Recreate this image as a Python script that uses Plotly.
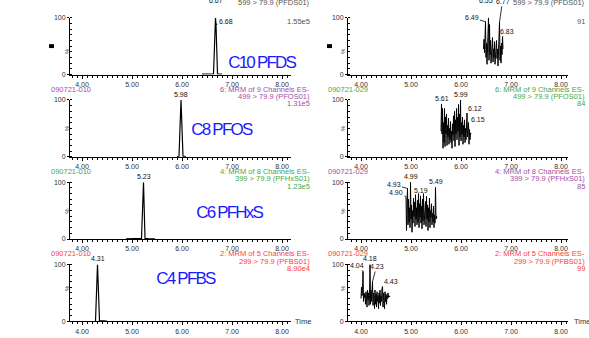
import plotly.graph_objects as go

W, H = 589, 338

# ---------------- text content ----------------
compounds = ["C10 PFDS", "C8 PFOS", "C6 PFHxS", "C4 PFBS"]
sample_left = "090721-010"
sample_right = "090721-029"
channels = ["8: MRM of 9 Channels ES-", "6: MRM of 9 Channels ES-",
            "4: MRM of 8 Channels ES-", "2: MRM of 5 Channels ES-"]
transitions = ["599 > 79.9 (PFDS01)", "499 > 79.9 (PFOS01)",
               "399 > 79.9 (PFHxS01)", "299 > 79.9 (PFBS01)"]
intensity_left = ["1.55e5", "1.31e5", "1.23e5", "8.90e4"]
intensity_right = ["91", "84", "85", "99"]
x_tick_vals = [4, 5, 6, 7, 8]
x_tick_text = ["4.00", "5.00", "6.00", "7.00", "8.00"]
y_tick_vals = [0, 100]
y_tick_text = ["0", "100"]

# ---------------- standard (left column) ----------------
pfds_std_t = [6.40, 6.50, 6.60, 6.63, 6.67, 6.68, 6.71, 6.75, 6.80]
pfds_std_v = [0.5, 1, 1, 1, 100, 88, 1, 0.5, 0.5]
pfos_std_t = [5.90, 5.94, 5.98, 6.02, 6.08]
pfos_std_v = [0.5, 0.5, 100, 1, 0.5]
pfhxs_std_t = [4.88, 5.00, 5.10, 5.19, 5.23, 5.26, 5.35, 5.46]
pfhxs_std_v = [0.3, 0.5, 0.5, 1, 100, 1, 0.5, 0.3]
pfbs_std_t = [4.27, 4.31, 4.35, 4.40, 4.45, 4.50]
pfbs_std_v = [0.5, 100, 1, 1, 1.5, 0.5]

# ---------------- sample (right column, noise) ----------------
pfds_smp_t = [6.45, 6.46, 6.47, 6.48, 6.49, 6.50, 6.51, 6.52, 6.53, 6.54,
              6.55, 6.56, 6.57, 6.58, 6.59, 6.60, 6.61, 6.62, 6.63, 6.64,
              6.65, 6.66, 6.67, 6.68, 6.69, 6.70, 6.71, 6.72, 6.73, 6.74,
              6.75, 6.76, 6.77, 6.78, 6.79, 6.80, 6.81, 6.82, 6.83, 6.84]
pfds_smp_v = [45, 62, 38, 70, 93, 30, 55, 18, 72, 45,
              100, 25, 88, 35, 60, 20, 50, 38, 65, 22,
              45, 30, 58, 18, 42, 35, 60, 28, 45, 15,
              40, 30, 92, 25, 50, 20, 55, 35, 66, 45]
pfos_smp_t = [5.60, 5.61, 5.62, 5.63, 5.64, 5.65, 5.66, 5.67, 5.68, 5.69,
              5.70, 5.71, 5.72, 5.73, 5.74, 5.75, 5.76, 5.77, 5.78, 5.79,
              5.80, 5.81, 5.82, 5.83, 5.84, 5.85, 5.86, 5.87, 5.88, 5.89,
              5.90, 5.91, 5.92, 5.93, 5.94, 5.95, 5.96, 5.97, 5.98, 5.99,
              6.00, 6.01, 6.02, 6.03, 6.04, 6.05, 6.06, 6.07, 6.08, 6.09,
              6.10, 6.11, 6.12, 6.13, 6.14, 6.15, 6.16, 6.17, 6.18, 6.19, 6.20]
pfos_smp_v = [45, 93, 40, 85, 15, 60, 25, 85, 18, 70,
              40, 75, 20, 55, 35, 68, 22, 50, 30, 62,
              25, 45, 15, 58, 38, 72, 28, 80, 18, 65,
              40, 85, 30, 70, 45, 92, 20, 75, 35, 100,
              28, 60, 40, 70, 22, 55, 35, 65, 25, 50,
              30, 60, 77, 35, 45, 60, 22, 48, 30, 42, 40]
pfhxs_smp_t = [4.90, 4.91, 4.92, 4.93, 4.94, 4.95, 4.96, 4.97, 4.98, 4.99,
               5.00, 5.01, 5.02, 5.03, 5.04, 5.05, 5.06, 5.07, 5.08, 5.09,
               5.10, 5.11, 5.12, 5.13, 5.14, 5.15, 5.16, 5.17, 5.18, 5.19,
               5.20, 5.21, 5.22, 5.23, 5.24, 5.25, 5.26, 5.27, 5.28, 5.29,
               5.30, 5.31, 5.32, 5.33, 5.34, 5.35, 5.36, 5.37, 5.38, 5.39,
               5.40, 5.41, 5.42, 5.43, 5.44, 5.45, 5.46, 5.47, 5.48, 5.49,
               5.50, 5.51, 5.52]
pfhxs_smp_v = [75, 15, 60, 89, 25, 70, 30, 55, 20, 100,
               35, 60, 12, 50, 28, 72, 40, 65, 22, 78,
               35, 55, 25, 68, 30, 80, 20, 62, 38, 76,
               28, 58, 18, 70, 32, 80, 25, 52, 40, 66,
               22, 75, 35, 60, 15, 55, 30, 72, 20, 50,
               38, 62, 25, 45, 30, 58, 20, 42, 28, 91,
               35, 40, 38]
pfbs_smp_t = [4.00, 4.01, 4.02, 4.03, 4.04, 4.05, 4.06, 4.07, 4.08, 4.09,
              4.10, 4.11, 4.12, 4.13, 4.14, 4.15, 4.16, 4.17, 4.18, 4.19,
              4.20, 4.21, 4.22, 4.23, 4.24, 4.25, 4.26, 4.27, 4.28, 4.29,
              4.30, 4.31, 4.32, 4.33, 4.34, 4.35, 4.36, 4.37, 4.38, 4.39,
              4.40, 4.41, 4.42, 4.43, 4.44, 4.45, 4.46, 4.47, 4.48, 4.49,
              4.50, 4.51, 4.52, 4.53, 4.54, 4.55, 4.56, 4.57, 4.58]
pfbs_smp_v = [40, 60, 45, 55, 88, 35, 50, 42, 48, 30,
              52, 40, 25, 55, 38, 50, 28, 45, 100, 30,
              55, 35, 60, 70, 28, 50, 38, 22, 55, 30,
              48, 25, 52, 35, 45, 22, 50, 32, 55, 28,
              45, 35, 58, 61, 25, 50, 38, 22, 52, 35,
              48, 30, 45, 40, 50, 42, 45, 43, 44]

# ---------------- peak labels (text, time, %) ----------------
labels_std = [
    [("6.67", 6.67, 100), ("6.68", 6.68, 88)],
    [("5.98", 5.98, 100)],
    [("5.23", 5.23, 100)],
    [("4.31", 4.31, 100)],
]
labels_smp = [
    [("6.49", 6.49, 93), ("6.55", 6.55, 100), ("6.77", 6.77, 92), ("6.83", 6.83, 66)],
    [("5.61", 5.61, 93), ("5.99", 5.99, 100), ("6.12", 6.12, 77), ("6.15", 6.15, 60)],
    [("4.90", 4.90, 75), ("4.93", 4.93, 89), ("4.99", 4.99, 100), ("5.19", 5.19, 76), ("5.49", 5.49, 91)],
    [("4.04", 4.04, 88), ("4.18", 4.18, 100), ("4.23", 4.23, 70), ("4.43", 4.43, 61)],
]

# ---------------- styling / layout (pixels) ----------------
std_series = [(pfds_std_t, pfds_std_v), (pfos_std_t, pfos_std_v),
              (pfhxs_std_t, pfhxs_std_v), (pfbs_std_t, pfbs_std_v)]
smp_series = [(pfds_smp_t, pfds_smp_v), (pfos_smp_t, pfos_smp_v),
              (pfhxs_smp_t, pfhxs_smp_v), (pfbs_smp_t, pfbs_smp_v)]

# label placement styles: None -> directly above; (ax, ay, yshift, arrow)
style_std = [[(0, 0, 12, False), (10, -3, 0, True)], [None], [None], [None]]
style_smp = [
    [(-14, -4, 0, True), (-3, 0, 12, False), (3, -21, 0, True), (4, -6, 0, True)],
    [None, None, (8, -5, 0, True), (9, -3, 0, True)],
    [(-10, -4, 0, True), (-14, -4, 0, True), None, None, None],
    [(-6, -6, 0, True), None, (4, -15, 0, True), (8, -5, 0, True)],
]

PURPLE = "#a64ca6"
GREEN = "#45a845"
RED = "#ff3b3b"
GRAY = "#555555"
row_colors = [(GRAY, GRAY), (PURPLE, GREEN), (GREEN, PURPLE), (RED, RED)]

row_tops = [14, 98, 182, 266]
plot_h = 58
col_px = [(70, 291), (348, 568)]
col_range = [(3.76, 8.18), (3.74, 8.14)]
compound_pos = [(261, 48), (221, 128), (187, 213), (148, 292)]

FONT = "Liberation Sans, Arial, sans-serif"


def pxx(p):
    return p / W


def pxy(p):
    return 1 - p / H


fig = go.Figure()
annotations = []
shapes = []
layout_axes = {}

for r in range(4):
    T = row_tops[r]
    for c in range(2):
        n = r * 2 + 1 + c
        xa = "x" if n == 1 else f"x{n}"
        ya = "y" if n == 1 else f"y{n}"
        xk = "xaxis" if n == 1 else f"xaxis{n}"
        yk = "yaxis" if n == 1 else f"yaxis{n}"
        t, v = (std_series if c == 0 else smp_series)[r]
        fig.add_trace(go.Scatter(x=t, y=v, mode="lines",
                                 line=dict(color="black", width=1.2 if c == 0 else 1),
                                 xaxis=xa, yaxis=ya, hoverinfo="skip", showlegend=False))
        x0, x1 = col_px[c]
        layout_axes[xk] = dict(
            domain=[pxx(x0), pxx(x1)], range=list(col_range[c]), anchor=ya,
            tickmode="array", tickvals=x_tick_vals, ticktext=x_tick_text,
            ticks="outside", ticklen=3, tickwidth=1, tickcolor="black",
            showline=True, linecolor="black", linewidth=1,
            showgrid=False, zeroline=False,
            tickfont=dict(family=FONT, size=7, color="#333"),
            minor=dict(tickmode="linear", tick0=4, dtick=0.1, ticks="outside",
                       ticklen=2, tickcolor="black", showgrid=False),
            fixedrange=True,
        )
        layout_axes[yk] = dict(
            domain=[pxy(T + plot_h), pxy(T)], range=[0, 100], anchor=xa,
            tickmode="array", tickvals=y_tick_vals, ticktext=y_tick_text,
            ticks="outside", ticklen=2, tickwidth=1, tickcolor="black",
            showline=True, linecolor="black", linewidth=1,
            showgrid=False, zeroline=False,
            tickfont=dict(family=FONT, size=7, color="#333"),
            minor=dict(tickmode="linear", tick0=0, dtick=10, ticks="inside",
                       ticklen=2, tickcolor="black", showgrid=False),
            fixedrange=True,
        )

        col = row_colors[r][c]
        # headers
        id_x = 49 if c == 0 else 326
        right_x = 312 if c == 0 else 587
        y1 = T - 11 if r > 0 else -10
        y2 = T - 3.5 if r > 0 else -1.5
        y3 = T + 4 if r > 0 else 18
        hfont = dict(family=FONT, size=7.5, color=col)
        annotations.append(dict(text=sample_left if c == 0 else sample_right,
                                x=pxx(id_x), y=pxy(y1), xref="paper", yref="paper",
                                xanchor="left", yanchor="middle", showarrow=False, font=hfont))
        annotations.append(dict(text=channels[r], x=pxx(right_x), y=pxy(y1),
                                xref="paper", yref="paper", xanchor="right", yanchor="middle",
                                showarrow=False, font=hfont))
        annotations.append(dict(text=transitions[r], x=pxx(right_x), y=pxy(y2),
                                xref="paper", yref="paper", xanchor="right", yanchor="middle",
                                showarrow=False, font=hfont))
        annotations.append(dict(text=(intensity_left if c == 0 else intensity_right)[r],
                                x=pxx(right_x), y=pxy(y3),
                                xref="paper", yref="paper", xanchor="right", yanchor="middle",
                                showarrow=False, font=hfont))
        # % label
        annotations.append(dict(text="%", x=pxx(x0 - 8 if c == 0 else x0 - 5), y=pxy(T + 29),
                                xref="paper", yref="paper", textangle=-90, showarrow=False,
                                font=dict(family=FONT, size=6, color="#444")))
        # peak labels
        labs = (labels_std if c == 0 else labels_smp)[r]
        stys = (style_std if c == 0 else style_smp)[r]
        for (txt, lt, lv), st in zip(labs, stys):
            lf = dict(family=FONT, size=7, color="#111")
            if st is None or not st[3]:
                ysh = 0 if st is None else st[2]
                xsh = 0 if st is None else st[0]
                annotations.append(dict(text=txt, x=lt, y=lv, xref=xa, yref=ya,
                                        showarrow=False, yanchor="bottom", yshift=ysh,
                                        xshift=xsh, font=lf))
            else:
                annotations.append(dict(text=txt, x=lt, y=lv, xref=xa, yref=ya,
                                        showarrow=True, arrowhead=0, arrowwidth=0.8,
                                        arrowcolor="black", ax=st[0], ay=st[1],
                                        standoff=0, font=lf))
    # compound label
    cx, cy = compound_pos[r]
    annotations.append(dict(text=compounds[r], x=pxx(cx), y=pxy(cy), xref="paper",
                            yref="paper", showarrow=False,
                            font=dict(family="Liberation Sans, Arial",
                                      size=17, color="#1a1aff")))

# "Time" axis titles on bottom row
for tx in (293, 572):
    annotations.append(dict(text="Time", x=pxx(tx), y=pxy(324), xref="paper", yref="paper",
                            xanchor="left", yanchor="middle", showarrow=False,
                            font=dict(family=FONT, size=7.5, color="#333")))

# small black markers in top row
for sx in (49, 327):
    shapes.append(dict(type="rect", xref="paper", yref="paper",
                       x0=pxx(sx), x1=pxx(sx + 5), y0=pxy(45), y1=pxy(41),
                       fillcolor="black", line=dict(width=0)))

fig.update_layout(width=W, height=H, margin=dict(l=0, r=0, t=0, b=0),
                  paper_bgcolor="white", plot_bgcolor="white",
                  annotations=annotations, shapes=shapes, showlegend=False,
                  **layout_axes)

post_js = """
document.body.style.margin='0';
document.body.style.padding='0';
document.body.style.overflow='hidden';
document.querySelectorAll('.annotation-text').forEach(function(t){
  if (t.style.fontSize === '17px') { t.style.letterSpacing = '-1.8px'; }
});
"""

fig.write_html("out.html", post_script=post_js, config={"displayModeBar": False})
